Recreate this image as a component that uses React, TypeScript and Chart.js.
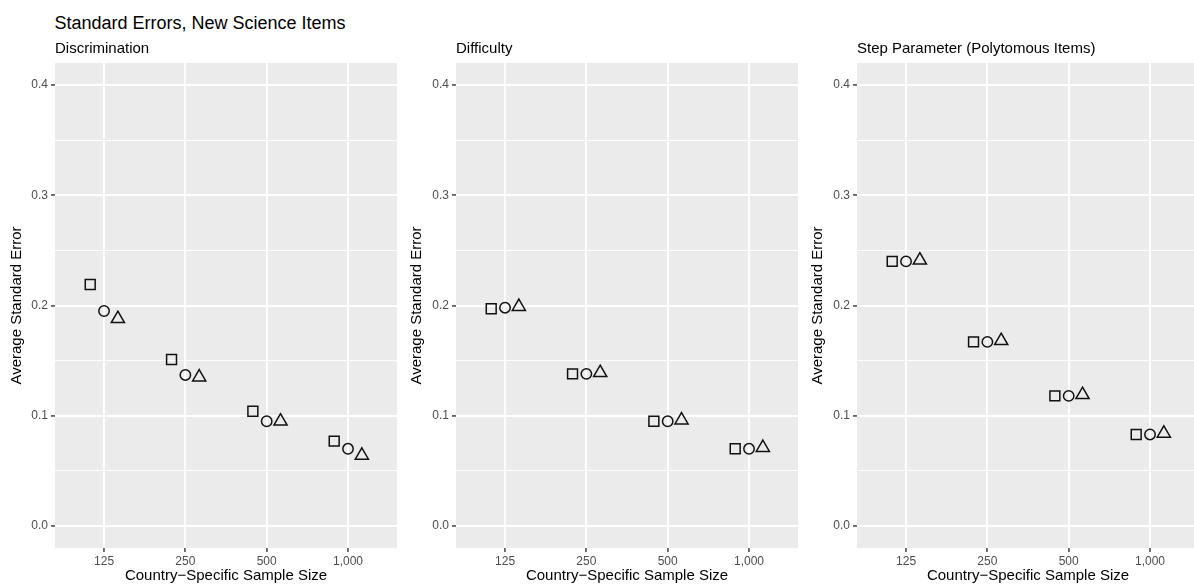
import React, { useEffect, useRef } from "react";
import { Chart, registerables } from "chart.js";

Chart.register(...registerables);

// ---------- data ----------
const sampleSizes = [125, 250, 500, 1000];
const xTickValues = [125, 250, 500, 1000];
const yTickValues = [0, 0.05, 0.1, 0.15, 0.2, 0.25, 0.3, 0.35, 0.4];

const mainTitle = "Standard Errors, New Science Items";
const panelTitles = ["Discrimination", "Difficulty", "Step Parameter (Polytomous Items)"];
const xAxisTitle = "Country\u2212Specific Sample Size";
const yAxisTitle = "Average Standard Error";

const discriminationSquare = [0.219, 0.151, 0.104, 0.077];
const discriminationCircle = [0.195, 0.137, 0.095, 0.070];
const discriminationTriangle = [0.188, 0.135, 0.095, 0.064];

const difficultySquare = [0.197, 0.138, 0.095, 0.070];
const difficultyCircle = [0.198, 0.138, 0.095, 0.070];
const difficultyTriangle = [0.199, 0.139, 0.096, 0.071];

const stepSquare = [0.240, 0.167, 0.118, 0.083];
const stepCircle = [0.240, 0.167, 0.118, 0.083];
const stepTriangle = [0.241, 0.168, 0.119, 0.084];

// ---------- style / layout ----------
const FONT = "'Liberation Sans', Arial, Helvetica, sans-serif";
const X_MIN = 82.3;
const X_MAX = 1518;
const Y_MIN = -0.02;
const Y_MAX = 0.42;
const DODGE_LOG2 = 0.17;
const CANVAS_H = 586;
const PANEL_TOP = 63;
const X_AXIS_H = 38;

const bgPlugin = {
  id: "panelBg",
  beforeDraw(chart: any) {
    const { ctx, chartArea } = chart;
    ctx.save();
    ctx.fillStyle = "#EBEBEB";
    ctx.fillRect(chartArea.left, chartArea.top, chartArea.right - chartArea.left, chartArea.bottom - chartArea.top);
    ctx.restore();
  },
};

type PanelProps = {
  left: number;
  width: number;
  yAxisWidth: number;
  rightPad: number;
  title: string;
  square: number[];
  circle: number[];
  triangle: number[];
};

function makeDataset(values: number[], shift: number, style: string, radius: number) {
  return {
    data: sampleSizes.map((n, i) => ({ x: n * Math.pow(2, shift), y: values[i] })),
    pointStyle: style,
    pointRadius: radius,
    pointHoverRadius: radius,
    pointBorderWidth: 1.5,
    pointBorderColor: "#111111",
    pointBackgroundColor: "rgba(0,0,0,0)",
    showLine: false,
    clip: false as any,
  };
}

function Panel(props: PanelProps) {
  const ref = useRef<HTMLCanvasElement>(null);
  useEffect(() => {
    if (!ref.current) return;
    const chart = new Chart(ref.current, {
      type: "scatter",
      data: {
        datasets: [
          makeDataset(props.square, -DODGE_LOG2, "rect", 7),
          makeDataset(props.circle, 0, "circle", 5.2),
          makeDataset(props.triangle, DODGE_LOG2, "triangle", 7.6),
        ] as any,
      },
      options: {
        animation: false,
        responsive: false,
        maintainAspectRatio: false,
        devicePixelRatio: 1,
        events: [],
        layout: {
          autoPadding: false,
          padding: { top: PANEL_TOP, bottom: 0, left: 0, right: props.rightPad },
        },
        plugins: {
          legend: { display: false },
          tooltip: { enabled: false },
          title: { display: false },
        },
        scales: {
          x: {
            type: "logarithmic",
            min: X_MIN,
            max: X_MAX,
            afterBuildTicks: (s: any) => {
              s.ticks = xTickValues.map((v) => ({ value: v }));
            },
            afterFit: (s: any) => {
              s.height = X_AXIS_H;
            },
            grid: {
              color: "#FFFFFF",
              lineWidth: 1.9,
              drawTicks: true,
              tickLength: 4,
              tickColor: "#333333",
              tickWidth: 1.4,
            },
            border: { display: false },
            ticks: {
              color: "#4D4D4D",
              font: { size: 12, family: FONT },
              padding: 2,
              maxRotation: 0,
              autoSkip: false,
              callback: (v: any) => Number(v).toLocaleString("en-US"),
            },
            title: {
              display: true,
              text: xAxisTitle,
              color: "#000000",
              font: { size: 15, family: FONT },
              padding: { top: 0, bottom: 1 },
            },
          },
          y: {
            type: "linear",
            min: Y_MIN,
            max: Y_MAX,
            afterBuildTicks: (s: any) => {
              s.ticks = yTickValues.map((v) => ({ value: v }));
            },
            afterFit: (s: any) => {
              s.width = props.yAxisWidth;
            },
            grid: {
              color: "#FFFFFF",
              lineWidth: (c: any) => (c.index % 2 === 0 ? 1.9 : 0.95),
              drawTicks: true,
              tickLength: 4,
              tickColor: (c: any) => (c.index % 2 === 0 ? "#333333" : "rgba(0,0,0,0)"),
              tickWidth: 1.4,
            },
            border: { display: false },
            ticks: {
              color: "#4D4D4D",
              font: { size: 12, family: FONT },
              padding: 3,
              autoSkip: false,
              callback: (v: any, i: number) => (i % 2 === 0 ? Number(v).toFixed(1) : ""),
            },
            title: {
              display: true,
              text: yAxisTitle,
              color: "#000000",
              font: { size: 15, family: FONT },
              padding: { top: 8, bottom: 0 },
            },
          },
        },
      } as any,
      plugins: [bgPlugin],
    });
    return () => chart.destroy();
  }, []);

  return (
    <>
      <canvas
        ref={ref}
        width={props.width}
        height={CANVAS_H}
        style={{ position: "absolute", left: props.left, top: 0, width: props.width, height: CANVAS_H }}
      />
      <div
        style={{
          position: "absolute",
          left: props.left + props.yAxisWidth,
          top: 39.6,
          fontFamily: FONT,
          fontSize: 15,
          lineHeight: "15px",
          color: "#000",
          whiteSpace: "nowrap",
        }}
      >
        {props.title}
      </div>
    </>
  );
}

export default function App() {
  return (
    <div
      style={{
        position: "fixed",
        left: 0,
        top: 0,
        width: 1194,
        height: 586,
        overflow: "hidden",
        background: "#FFFFFF",
      }}
    >
      <div
        style={{
          position: "absolute",
          left: 54.5,
          top: 14.1,
          fontFamily: FONT,
          fontSize: 18,
          lineHeight: "18px",
          color: "#000",
          whiteSpace: "nowrap",
        }}
      >
        {mainTitle}
      </div>
      <Panel
        left={0}
        width={400}
        yAxisWidth={55}
        rightPad={3}
        title={panelTitles[0]}
        square={discriminationSquare}
        circle={discriminationCircle}
        triangle={discriminationTriangle}
      />
      <Panel
        left={400}
        width={400}
        yAxisWidth={56}
        rightPad={2}
        title={panelTitles[1]}
        square={difficultySquare}
        circle={difficultyCircle}
        triangle={difficultyTriangle}
      />
      <Panel
        left={801}
        width={400}
        yAxisWidth={56}
        rightPad={2}
        title={panelTitles[2]}
        square={stepSquare}
        circle={stepCircle}
        triangle={stepTriangle}
      />
    </div>
  );
}
